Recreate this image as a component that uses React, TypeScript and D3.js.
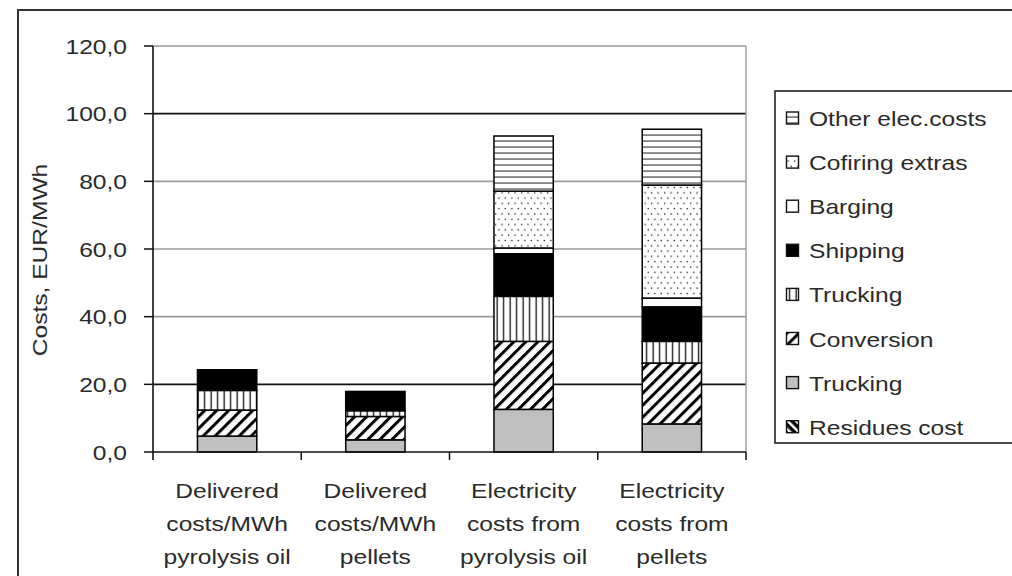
import React from "react";
import * as d3 from "d3";

// Cost categories on the x axis (each split over three lines)
const categories = [
  ["Delivered", "costs/MWh", "pyrolysis oil"],
  ["Delivered", "costs/MWh", "pellets"],
  ["Electricity", "costs from", "pyrolysis oil"],
  ["Electricity", "costs from", "pellets"],
];

// Cost components, EUR/MWh, stacked bottom to top
const residuesCost = [0, 0, 0, 0];
const truckingResidues = [4.7, 3.6, 12.6, 8.3];
const conversion = [7.7, 6.9, 20.1, 18.0];
const truckingProduct = [5.8, 1.7, 13.3, 6.4];
const shipping = [6.1, 5.7, 12.6, 10.2];
const barging = [0, 0, 1.7, 2.6];
const cofiringExtras = [0, 0, 16.8, 33.4];
const otherElecCosts = [0, 0, 16.3, 16.5];

const seriesKeys = ["res", "truck1", "conv", "truck2", "ship", "barge", "cofire", "other"];
const seriesLabels = [
  "Residues cost",
  "Trucking",
  "Conversion",
  "Trucking",
  "Shipping",
  "Barging",
  "Cofiring extras",
  "Other elec.costs",
];
const seriesValues = [
  residuesCost,
  truckingResidues,
  conversion,
  truckingProduct,
  shipping,
  barging,
  cofiringExtras,
  otherElecCosts,
];

const yTicks = [0, 20, 40, 60, 80, 100, 120];

const fills: Record<string, string> = {
  res: "url(#pResidues)",
  truck1: "#c0c0c0",
  conv: "url(#pConv)",
  truck2: "url(#pVert)",
  ship: "#000",
  barge: "#fff",
  cofire: "url(#pDots)",
  other: "url(#pHoriz)",
};

const FONT = "'Liberation Sans', Arial, sans-serif";
const FS = 20.5;
const SX = 1.2;
const INK = "#2a2a2a";

function T({ x, y, anchor = "start", children, rotate = 0 }: any) {
  return (
    <text
      transform={`translate(${x},${y}) rotate(${rotate}) scale(${SX},1)`}
      textAnchor={anchor}
      fontFamily={FONT}
      fontSize={FS}
      fill={INK}
    >
      {children}
    </text>
  );
}

export default function App() {
  const W = 1012;
  const H = 576;
  const plot = { left: 153, right: 746, top: 46, bottom: 452 };

  const rows = categories.map((c, i) => {
    const r: any = { idx: i };
    seriesKeys.forEach((k, j) => (r[k] = seriesValues[j][i]));
    return r;
  });
  const stacked = d3.stack().keys(seriesKeys)(rows);

  const x = d3
    .scaleBand<number>()
    .domain(categories.map((_, i) => i))
    .range([plot.left, plot.right])
    .padding(0);
  const y = d3.scaleLinear().domain([0, 120]).range([plot.bottom, plot.top]);
  const barW = x.bandwidth() * 0.4;
  const fmt = (v: number) => d3.format(".1f")(v).replace(".", ",");

  const gridColor = (v: number) => (v === 100 || v === 20 ? "#111" : "#9a9a9a");

  const legendOrder = seriesKeys.map((_, i) => i).reverse();

  return (
    <svg
      width={W}
      height={H}
      style={{ position: "absolute", left: 0, top: 0, background: "#fff" }}
    >
      <defs>
        <pattern id="pHoriz" width="6" height="6" patternUnits="userSpaceOnUse">
          <rect width="6" height="6" fill="#fff" />
          <rect x="0" y="2.5" width="6" height="1.1" fill="#333" />
        </pattern>
        <pattern id="pVert" width="6.5" height="6" patternUnits="userSpaceOnUse">
          <rect width="6.5" height="6" fill="#fff" />
          <rect x="2.5" y="0" width="1.3" height="6" fill="#111" />
        </pattern>
        <pattern id="pDots" width="6.5" height="10.6" patternUnits="userSpaceOnUse">
          <rect width="6.5" height="10.6" fill="#fff" />
          <circle cx="1.6" cy="2" r="0.8" fill="#222" />
          <circle cx="4.85" cy="7.3" r="0.8" fill="#222" />
        </pattern>
        <pattern
          id="pConv"
          width="8.5"
          height="8.5"
          patternUnits="userSpaceOnUse"
          patternTransform="rotate(45)"
        >
          <rect width="8.5" height="8.5" fill="#fff" />
          <rect x="0" y="0" width="3" height="8.5" fill="#000" />
        </pattern>
        <pattern
          id="pResidues"
          width="6"
          height="6"
          patternUnits="userSpaceOnUse"
          patternTransform="rotate(-45)"
        >
          <rect width="6" height="6" fill="#000" />
          <rect x="0" y="0" width="2.5" height="6" fill="#fff" />
        </pattern>
      </defs>

      {/* outer chart frame */}
      <rect x={18} y={10} width={1030} height={600} fill="#fff" stroke="#333" strokeWidth={2} />

      {/* gridlines */}
      {yTicks
        .filter((v) => v > 0)
        .map((v) => (
          <line
            key={v}
            x1={plot.left}
            x2={plot.right}
            y1={y(v)}
            y2={y(v)}
            stroke={gridColor(v)}
            strokeWidth={1.6}
          />
        ))}
      <line x1={plot.right} x2={plot.right} y1={plot.top} y2={plot.bottom} stroke="#9a9a9a" strokeWidth={1.4} />

      {/* stacked bars */}
      {stacked.map((s) =>
        s.map((d, i) => {
          const v = d[1] - d[0];
          if (v <= 0) return null;
          const cx = (x(i) as number) + x.bandwidth() / 2;
          return (
            <rect
              key={s.key + i}
              x={cx - barW / 2}
              y={y(d[1])}
              width={barW}
              height={y(d[0]) - y(d[1])}
              fill={fills[s.key]}
              stroke="#000"
              strokeWidth={1.5}
            />
          );
        })
      )}

      {/* y axis */}
      <line x1={plot.left} x2={plot.left} y1={plot.top} y2={plot.bottom + 8} stroke="#111" strokeWidth={1.6} />
      {yTicks.map((v) => (
        <g key={v}>
          <line x1={plot.left - 9} x2={plot.left} y1={y(v)} y2={y(v)} stroke="#111" strokeWidth={1.5} />
          <T x={127} y={y(v) + 7.5} anchor="end">
            {fmt(v)}
          </T>
        </g>
      ))}

      {/* x axis */}
      <line x1={plot.left} x2={plot.right} y1={plot.bottom} y2={plot.bottom} stroke="#111" strokeWidth={1.6} />
      {categories.map((_, i) => (
        <line
          key={i}
          x1={(x(i) as number) + x.bandwidth()}
          x2={(x(i) as number) + x.bandwidth()}
          y1={plot.bottom}
          y2={plot.bottom + 8}
          stroke="#111"
          strokeWidth={1.5}
        />
      ))}
      {categories.map((lines, i) => (
        <g key={i}>
          {lines.map((ln, j) => (
            <T key={j} x={(x(i) as number) + x.bandwidth() / 2} y={498 + j * 33} anchor="middle">
              {ln}
            </T>
          ))}
        </g>
      ))}

      {/* y axis title */}
      <T x={47} y={260} anchor="middle" rotate={-90}>
        Costs, EUR/MWh
      </T>

      {/* legend */}
      <rect x={775} y={91} width={260} height={352} fill="#fff" stroke="#222" strokeWidth={1.6} />
      {legendOrder.map((si, row) => {
        const cy = 118.5 + row * 44.1;
        return (
          <g key={si}>
            <rect x={786.5} y={cy - 6.5} width={12} height={12} fill={fills[seriesKeys[si]]} stroke="#111" strokeWidth={1.4} />
            <T x={809} y={cy + 7.5}>
              {seriesLabels[si]}
            </T>
          </g>
        );
      })}
    </svg>
  );
}
